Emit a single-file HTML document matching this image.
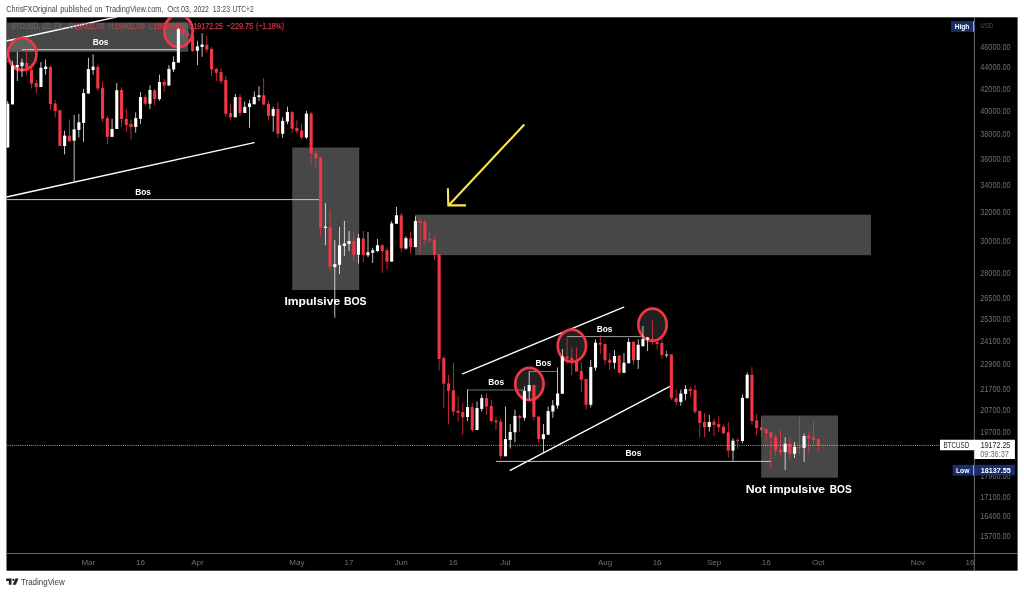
<!DOCTYPE html>
<html lang="en"><head><meta charset="utf-8"><title>BTCUSD chart</title>
<style>
html,body{margin:0;padding:0;background:#fff;}
body{width:1024px;height:593px;overflow:hidden;position:relative;font-family:"Liberation Sans",sans-serif;}
svg{position:absolute;left:0;top:0;display:block;}
text{font-family:"Liberation Sans",sans-serif;}
</style></head><body>
<svg width="1024" height="593" viewBox="0 0 1024 593">
<defs><clipPath id="pane"><rect x="6.50" y="17.30" width="967.80" height="536.20"/></clipPath></defs>
<rect x="0" y="0" width="1024" height="593" fill="#ffffff"/>
<rect x="6.50" y="17.30" width="1011.10" height="553.40" fill="#000000"/>
<g clip-path="url(#pane)">
<rect x="6.50" y="22.50" width="181.60" height="29.30" fill="#474747"/>
<rect x="292.20" y="147.50" width="67.00" height="142.50" fill="#474747"/>
<rect x="415.00" y="214.70" width="456.00" height="40.50" fill="#474747"/>
<rect x="761.20" y="415.50" width="76.80" height="62.20" fill="#474747"/>
<line x1="6.50" y1="41.00" x2="116.50" y2="17.00" stroke="#ffffff" stroke-width="1.3" stroke-linecap="round"/>
<line x1="6.50" y1="197.00" x2="254.20" y2="142.60" stroke="#ffffff" stroke-width="1.3" stroke-linecap="round"/>
<line x1="462.50" y1="373.80" x2="623.80" y2="307.20" stroke="#ffffff" stroke-width="1.3" stroke-linecap="round"/>
<line x1="510.20" y1="470.40" x2="670.00" y2="386.40" stroke="#ffffff" stroke-width="1.3" stroke-linecap="round"/>
<line x1="21.90" y1="49.70" x2="177.00" y2="49.70" stroke="#e6e6e6" stroke-width="0.90"/>
<line x1="0.00" y1="61.30" x2="12.60" y2="61.30" stroke="#9a9a9a" stroke-width="0.80"/>
<line x1="0.00" y1="199.60" x2="319.00" y2="199.60" stroke="#c8c8c8" stroke-width="1.00"/>
<line x1="467.50" y1="390.00" x2="523.80" y2="390.00" stroke="#8c8c8c" stroke-width="0.80"/>
<line x1="529.20" y1="371.50" x2="557.50" y2="371.50" stroke="#8c8c8c" stroke-width="0.80"/>
<line x1="566.90" y1="336.60" x2="641.90" y2="336.60" stroke="#c0c0c0" stroke-width="0.80"/>
<line x1="495.90" y1="461.40" x2="771.00" y2="461.40" stroke="#d8d8d8" stroke-width="0.90"/>
<ellipse cx="22.30" cy="54.10" rx="14.15" ry="16.1" fill="rgba(255,255,255,0.13)" stroke="#f23645" stroke-width="2.7"/>
<ellipse cx="178.50" cy="30.90" rx="14.15" ry="16.1" fill="rgba(255,255,255,0.13)" stroke="#f23645" stroke-width="2.7"/>
<ellipse cx="529.40" cy="384.00" rx="14.15" ry="16.1" fill="rgba(255,255,255,0.13)" stroke="#f23645" stroke-width="2.7"/>
<ellipse cx="571.90" cy="345.80" rx="14.15" ry="16.1" fill="rgba(255,255,255,0.13)" stroke="#f23645" stroke-width="2.7"/>
<ellipse cx="652.50" cy="324.70" rx="14.15" ry="16.1" fill="rgba(255,255,255,0.13)" stroke="#f23645" stroke-width="2.7"/>
<g stroke="#fbe94a" stroke-width="2.1" fill="none" stroke-linecap="butt" stroke-linejoin="miter">
<line x1="524.3" y1="124.5" x2="448.8" y2="205.2"/>
<polyline points="447.9,188.3 448.3,205.4 466.0,205.4"/>
</g>
<text x="92.70" y="44.60" font-size="9.6" fill="#ffffff" font-weight="bold" textLength="15.80" lengthAdjust="spacingAndGlyphs">Bos</text>
<text x="135.20" y="194.80" font-size="9.6" fill="#ffffff" font-weight="bold" textLength="15.80" lengthAdjust="spacingAndGlyphs">Bos</text>
<text x="488.30" y="384.60" font-size="9.6" fill="#ffffff" font-weight="bold" textLength="15.80" lengthAdjust="spacingAndGlyphs">Bos</text>
<text x="535.50" y="365.60" font-size="9.6" fill="#ffffff" font-weight="bold" textLength="15.80" lengthAdjust="spacingAndGlyphs">Bos</text>
<text x="596.70" y="331.90" font-size="9.6" fill="#ffffff" font-weight="bold" textLength="15.80" lengthAdjust="spacingAndGlyphs">Bos</text>
<text x="625.50" y="455.80" font-size="9.6" fill="#ffffff" font-weight="bold" textLength="15.80" lengthAdjust="spacingAndGlyphs">Bos</text>
<text x="284.50" y="305.40" font-size="11.7" fill="#ffffff" font-weight="bold" textLength="55.60" lengthAdjust="spacingAndGlyphs">Impulsive</text>
<text x="343.90" y="305.40" font-size="11.7" fill="#ffffff" font-weight="bold" textLength="22.70" lengthAdjust="spacingAndGlyphs">BOS</text>
<text x="745.70" y="492.80" font-size="11.7" fill="#ffffff" font-weight="bold" textLength="20.50" lengthAdjust="spacingAndGlyphs">Not</text>
<text x="769.60" y="492.80" font-size="11.7" fill="#ffffff" font-weight="bold" textLength="55.40" lengthAdjust="spacingAndGlyphs">impulsive</text>
<text x="829.80" y="492.80" font-size="11.7" fill="#ffffff" font-weight="bold" textLength="21.90" lengthAdjust="spacingAndGlyphs">BOS</text>
</g>
<g clip-path="url(#pane)" shape-rendering="geometricPrecision">
<rect x="7.38" y="101.00" width="0.75" height="46.50" fill="#ffffff"/>
<rect x="6.21" y="103.75" width="3.10" height="43.75" fill="#ffffff"/>
<rect x="12.12" y="61.30" width="0.75" height="43.10" fill="#ffffff"/>
<rect x="10.95" y="65.70" width="3.10" height="38.70" fill="#ffffff"/>
<rect x="16.87" y="51.90" width="0.75" height="29.10" fill="#ffffff"/>
<rect x="15.69" y="65.00" width="3.10" height="2.25" fill="#ffffff"/>
<rect x="21.61" y="58.75" width="0.75" height="18.15" fill="#ffffff"/>
<rect x="20.43" y="62.50" width="3.10" height="3.50" fill="#ffffff"/>
<rect x="26.34" y="48.75" width="0.75" height="26.85" fill="#f23645"/>
<rect x="25.17" y="62.90" width="3.10" height="7.10" fill="#f23645"/>
<rect x="31.09" y="67.50" width="0.75" height="21.00" fill="#f23645"/>
<rect x="29.91" y="70.00" width="3.10" height="13.50" fill="#f23645"/>
<rect x="35.83" y="79.75" width="0.75" height="13.75" fill="#f23645"/>
<rect x="34.65" y="83.00" width="3.10" height="4.00" fill="#f23645"/>
<rect x="40.56" y="62.00" width="0.75" height="25.00" fill="#ffffff"/>
<rect x="39.39" y="67.75" width="3.10" height="19.25" fill="#ffffff"/>
<rect x="45.30" y="59.40" width="0.75" height="15.35" fill="#ffffff"/>
<rect x="44.13" y="66.60" width="3.10" height="2.40" fill="#ffffff"/>
<rect x="50.05" y="65.60" width="0.75" height="44.15" fill="#f23645"/>
<rect x="48.87" y="66.90" width="3.10" height="37.10" fill="#f23645"/>
<rect x="54.79" y="100.00" width="0.75" height="17.25" fill="#f23645"/>
<rect x="53.61" y="103.50" width="3.10" height="7.50" fill="#f23645"/>
<rect x="59.53" y="110.00" width="0.75" height="36.00" fill="#f23645"/>
<rect x="58.35" y="110.25" width="3.10" height="35.75" fill="#f23645"/>
<rect x="64.27" y="130.60" width="0.75" height="23.80" fill="#ffffff"/>
<rect x="63.09" y="135.60" width="3.10" height="10.40" fill="#ffffff"/>
<rect x="69.00" y="119.40" width="0.75" height="22.10" fill="#f23645"/>
<rect x="67.83" y="135.60" width="3.10" height="5.65" fill="#f23645"/>
<rect x="73.75" y="115.00" width="0.75" height="66.00" fill="#ffffff"/>
<rect x="72.57" y="129.40" width="3.10" height="11.20" fill="#ffffff"/>
<rect x="78.48" y="114.00" width="0.75" height="23.50" fill="#ffffff"/>
<rect x="77.31" y="122.25" width="3.10" height="7.75" fill="#ffffff"/>
<rect x="83.23" y="89.00" width="0.75" height="52.90" fill="#ffffff"/>
<rect x="82.05" y="93.10" width="3.10" height="29.80" fill="#ffffff"/>
<rect x="87.97" y="57.75" width="0.75" height="35.75" fill="#ffffff"/>
<rect x="86.79" y="69.00" width="3.10" height="24.50" fill="#ffffff"/>
<rect x="92.70" y="54.40" width="0.75" height="20.35" fill="#ffffff"/>
<rect x="91.53" y="66.60" width="3.10" height="3.40" fill="#ffffff"/>
<rect x="97.45" y="64.40" width="0.75" height="26.20" fill="#f23645"/>
<rect x="96.27" y="66.90" width="3.10" height="21.60" fill="#f23645"/>
<rect x="102.19" y="81.90" width="0.75" height="40.00" fill="#f23645"/>
<rect x="101.01" y="87.90" width="3.10" height="30.85" fill="#f23645"/>
<rect x="106.93" y="116.00" width="0.75" height="28.40" fill="#f23645"/>
<rect x="105.75" y="118.10" width="3.10" height="18.80" fill="#f23645"/>
<rect x="111.67" y="118.75" width="0.75" height="18.15" fill="#ffffff"/>
<rect x="110.49" y="129.00" width="3.10" height="7.90" fill="#ffffff"/>
<rect x="116.41" y="83.00" width="0.75" height="46.00" fill="#ffffff"/>
<rect x="115.23" y="90.25" width="3.10" height="38.75" fill="#ffffff"/>
<rect x="121.15" y="87.25" width="0.75" height="40.00" fill="#f23645"/>
<rect x="119.97" y="90.00" width="3.10" height="29.00" fill="#f23645"/>
<rect x="125.89" y="108.75" width="0.75" height="23.15" fill="#f23645"/>
<rect x="124.71" y="119.00" width="3.10" height="6.00" fill="#f23645"/>
<rect x="130.62" y="119.40" width="0.75" height="20.00" fill="#f23645"/>
<rect x="129.45" y="124.00" width="3.10" height="2.90" fill="#f23645"/>
<rect x="135.37" y="112.25" width="0.75" height="20.50" fill="#ffffff"/>
<rect x="134.19" y="118.10" width="3.10" height="8.80" fill="#ffffff"/>
<rect x="140.11" y="92.10" width="0.75" height="31.90" fill="#ffffff"/>
<rect x="138.93" y="97.10" width="3.10" height="21.65" fill="#ffffff"/>
<rect x="144.84" y="94.75" width="0.75" height="10.65" fill="#f23645"/>
<rect x="143.67" y="97.10" width="3.10" height="6.65" fill="#f23645"/>
<rect x="149.59" y="85.25" width="0.75" height="23.75" fill="#ffffff"/>
<rect x="148.41" y="90.00" width="3.10" height="13.75" fill="#ffffff"/>
<rect x="154.33" y="89.00" width="0.75" height="16.40" fill="#f23645"/>
<rect x="153.15" y="90.25" width="3.10" height="8.85" fill="#f23645"/>
<rect x="159.06" y="74.50" width="0.75" height="26.40" fill="#ffffff"/>
<rect x="157.89" y="82.00" width="3.10" height="17.10" fill="#ffffff"/>
<rect x="163.81" y="79.10" width="0.75" height="12.80" fill="#f23645"/>
<rect x="162.63" y="82.00" width="3.10" height="3.50" fill="#f23645"/>
<rect x="168.55" y="65.10" width="0.75" height="20.50" fill="#ffffff"/>
<rect x="167.37" y="68.90" width="3.10" height="16.60" fill="#ffffff"/>
<rect x="173.28" y="56.40" width="0.75" height="15.60" fill="#ffffff"/>
<rect x="172.11" y="62.00" width="3.10" height="7.50" fill="#ffffff"/>
<rect x="178.03" y="26.40" width="0.75" height="36.20" fill="#ffffff"/>
<rect x="176.85" y="28.90" width="3.10" height="33.70" fill="#ffffff"/>
<rect x="182.77" y="28.50" width="0.75" height="10.40" fill="#f23645"/>
<rect x="181.59" y="29.10" width="3.10" height="4.80" fill="#f23645"/>
<rect x="187.50" y="30.75" width="0.75" height="9.35" fill="#f23645"/>
<rect x="186.33" y="33.25" width="3.10" height="2.50" fill="#f23645"/>
<rect x="192.25" y="34.50" width="0.75" height="17.50" fill="#f23645"/>
<rect x="191.07" y="35.10" width="3.10" height="15.90" fill="#f23645"/>
<rect x="196.99" y="40.75" width="0.75" height="24.35" fill="#ffffff"/>
<rect x="195.81" y="46.40" width="3.10" height="4.35" fill="#ffffff"/>
<rect x="201.73" y="33.25" width="0.75" height="23.50" fill="#ffffff"/>
<rect x="200.55" y="44.50" width="3.10" height="2.50" fill="#ffffff"/>
<rect x="206.47" y="35.75" width="0.75" height="17.25" fill="#f23645"/>
<rect x="205.29" y="44.75" width="3.10" height="5.00" fill="#f23645"/>
<rect x="211.21" y="47.00" width="0.75" height="29.00" fill="#f23645"/>
<rect x="210.03" y="48.90" width="3.10" height="20.60" fill="#f23645"/>
<rect x="215.95" y="67.60" width="0.75" height="13.40" fill="#f23645"/>
<rect x="214.77" y="68.90" width="3.10" height="4.00" fill="#f23645"/>
<rect x="220.69" y="68.00" width="0.75" height="15.90" fill="#f23645"/>
<rect x="219.51" y="72.00" width="3.10" height="9.10" fill="#f23645"/>
<rect x="225.43" y="76.00" width="0.75" height="40.60" fill="#f23645"/>
<rect x="224.25" y="80.10" width="3.10" height="33.65" fill="#f23645"/>
<rect x="230.17" y="103.50" width="0.75" height="16.50" fill="#f23645"/>
<rect x="228.99" y="113.10" width="3.10" height="4.15" fill="#f23645"/>
<rect x="234.91" y="94.00" width="0.75" height="23.25" fill="#ffffff"/>
<rect x="233.73" y="97.10" width="3.10" height="20.15" fill="#ffffff"/>
<rect x="239.65" y="94.00" width="0.75" height="22.00" fill="#f23645"/>
<rect x="238.47" y="97.10" width="3.10" height="16.00" fill="#f23645"/>
<rect x="244.39" y="101.50" width="0.75" height="11.50" fill="#ffffff"/>
<rect x="243.21" y="106.90" width="3.10" height="6.10" fill="#ffffff"/>
<rect x="249.12" y="99.90" width="0.75" height="27.85" fill="#ffffff"/>
<rect x="247.95" y="103.40" width="3.10" height="3.70" fill="#ffffff"/>
<rect x="253.87" y="91.50" width="0.75" height="12.75" fill="#ffffff"/>
<rect x="252.69" y="96.90" width="3.10" height="7.35" fill="#ffffff"/>
<rect x="258.61" y="86.25" width="0.75" height="14.65" fill="#ffffff"/>
<rect x="257.43" y="95.25" width="3.10" height="1.85" fill="#ffffff"/>
<rect x="263.35" y="78.10" width="0.75" height="26.65" fill="#f23645"/>
<rect x="262.17" y="95.25" width="3.10" height="9.35" fill="#f23645"/>
<rect x="268.09" y="101.50" width="0.75" height="19.00" fill="#f23645"/>
<rect x="266.91" y="104.00" width="3.10" height="11.90" fill="#f23645"/>
<rect x="272.82" y="106.50" width="0.75" height="25.25" fill="#ffffff"/>
<rect x="271.65" y="109.00" width="3.10" height="6.90" fill="#ffffff"/>
<rect x="277.56" y="102.10" width="0.75" height="35.65" fill="#f23645"/>
<rect x="276.39" y="109.00" width="3.10" height="24.75" fill="#f23645"/>
<rect x="282.31" y="117.10" width="0.75" height="20.65" fill="#ffffff"/>
<rect x="281.13" y="120.90" width="3.10" height="12.85" fill="#ffffff"/>
<rect x="287.05" y="106.50" width="0.75" height="17.75" fill="#ffffff"/>
<rect x="285.87" y="112.10" width="3.10" height="9.40" fill="#ffffff"/>
<rect x="291.79" y="110.90" width="0.75" height="21.60" fill="#f23645"/>
<rect x="290.61" y="112.10" width="3.10" height="16.50" fill="#f23645"/>
<rect x="296.53" y="120.25" width="0.75" height="13.35" fill="#f23645"/>
<rect x="295.35" y="128.00" width="3.10" height="3.10" fill="#f23645"/>
<rect x="301.26" y="123.40" width="0.75" height="16.20" fill="#f23645"/>
<rect x="300.09" y="130.50" width="3.10" height="7.00" fill="#f23645"/>
<rect x="306.00" y="110.90" width="0.75" height="28.10" fill="#ffffff"/>
<rect x="304.83" y="113.60" width="3.10" height="23.90" fill="#ffffff"/>
<rect x="310.75" y="112.10" width="0.75" height="52.30" fill="#f23645"/>
<rect x="309.57" y="113.60" width="3.10" height="39.80" fill="#f23645"/>
<rect x="315.49" y="150.25" width="0.75" height="17.85" fill="#f23645"/>
<rect x="314.31" y="153.10" width="3.10" height="5.00" fill="#f23645"/>
<rect x="320.23" y="157.00" width="0.75" height="79.90" fill="#f23645"/>
<rect x="319.05" y="157.50" width="3.10" height="70.00" fill="#f23645"/>
<rect x="324.97" y="203.10" width="0.75" height="42.15" fill="#ffffff"/>
<rect x="323.79" y="226.60" width="3.10" height="1.30" fill="#ffffff"/>
<rect x="329.71" y="210.00" width="0.75" height="60.40" fill="#f23645"/>
<rect x="328.53" y="227.25" width="3.10" height="39.65" fill="#f23645"/>
<rect x="334.44" y="240.25" width="0.75" height="77.35" fill="#ffffff"/>
<rect x="333.27" y="264.10" width="3.10" height="3.00" fill="#ffffff"/>
<rect x="339.19" y="226.90" width="0.75" height="47.20" fill="#ffffff"/>
<rect x="338.01" y="245.25" width="3.10" height="19.50" fill="#ffffff"/>
<rect x="343.93" y="220.90" width="0.75" height="35.10" fill="#ffffff"/>
<rect x="342.75" y="243.40" width="3.10" height="2.60" fill="#ffffff"/>
<rect x="348.67" y="231.00" width="0.75" height="20.00" fill="#ffffff"/>
<rect x="347.49" y="241.00" width="3.10" height="3.00" fill="#ffffff"/>
<rect x="353.41" y="231.50" width="0.75" height="30.10" fill="#f23645"/>
<rect x="352.23" y="241.00" width="3.10" height="13.75" fill="#f23645"/>
<rect x="358.15" y="234.00" width="0.75" height="29.50" fill="#ffffff"/>
<rect x="356.97" y="238.10" width="3.10" height="16.65" fill="#ffffff"/>
<rect x="362.88" y="231.00" width="0.75" height="31.10" fill="#f23645"/>
<rect x="361.71" y="238.50" width="3.10" height="16.50" fill="#f23645"/>
<rect x="367.62" y="232.10" width="0.75" height="25.15" fill="#ffffff"/>
<rect x="366.45" y="252.25" width="3.10" height="3.00" fill="#ffffff"/>
<rect x="372.37" y="247.75" width="0.75" height="15.15" fill="#ffffff"/>
<rect x="371.19" y="250.25" width="3.10" height="2.50" fill="#ffffff"/>
<rect x="377.11" y="239.00" width="0.75" height="13.25" fill="#ffffff"/>
<rect x="375.93" y="245.25" width="3.10" height="5.75" fill="#ffffff"/>
<rect x="381.85" y="244.00" width="0.75" height="28.75" fill="#f23645"/>
<rect x="380.67" y="245.25" width="3.10" height="5.75" fill="#f23645"/>
<rect x="386.59" y="247.25" width="0.75" height="21.85" fill="#f23645"/>
<rect x="385.41" y="250.25" width="3.10" height="11.35" fill="#f23645"/>
<rect x="391.33" y="221.00" width="0.75" height="40.60" fill="#ffffff"/>
<rect x="390.15" y="223.40" width="3.10" height="38.20" fill="#ffffff"/>
<rect x="396.06" y="206.90" width="0.75" height="16.85" fill="#ffffff"/>
<rect x="394.89" y="215.25" width="3.10" height="8.50" fill="#ffffff"/>
<rect x="400.81" y="213.10" width="0.75" height="39.15" fill="#f23645"/>
<rect x="399.63" y="215.30" width="3.10" height="32.90" fill="#f23645"/>
<rect x="405.55" y="236.25" width="0.75" height="13.35" fill="#ffffff"/>
<rect x="404.37" y="238.20" width="3.10" height="10.30" fill="#ffffff"/>
<rect x="410.29" y="231.50" width="0.75" height="22.00" fill="#f23645"/>
<rect x="409.11" y="238.20" width="3.10" height="8.80" fill="#f23645"/>
<rect x="415.03" y="216.40" width="0.75" height="30.70" fill="#ffffff"/>
<rect x="413.85" y="221.00" width="3.10" height="26.10" fill="#ffffff"/>
<rect x="419.77" y="218.20" width="0.75" height="35.80" fill="#f23645"/>
<rect x="418.59" y="221.00" width="3.10" height="1.75" fill="#f23645"/>
<rect x="424.50" y="219.40" width="0.75" height="24.60" fill="#f23645"/>
<rect x="423.33" y="222.10" width="3.10" height="17.65" fill="#f23645"/>
<rect x="429.25" y="231.60" width="0.75" height="11.30" fill="#f23645"/>
<rect x="428.07" y="238.90" width="3.10" height="1.50" fill="#f23645"/>
<rect x="433.99" y="236.60" width="0.75" height="23.40" fill="#f23645"/>
<rect x="432.81" y="239.75" width="3.10" height="15.00" fill="#f23645"/>
<rect x="438.73" y="254.00" width="0.75" height="116.60" fill="#f23645"/>
<rect x="437.55" y="254.10" width="3.10" height="104.90" fill="#f23645"/>
<rect x="443.47" y="355.60" width="0.75" height="52.30" fill="#f23645"/>
<rect x="442.29" y="358.10" width="3.10" height="25.65" fill="#f23645"/>
<rect x="448.21" y="375.00" width="0.75" height="49.10" fill="#f23645"/>
<rect x="447.03" y="383.40" width="3.10" height="7.50" fill="#f23645"/>
<rect x="452.94" y="363.10" width="0.75" height="52.30" fill="#f23645"/>
<rect x="451.77" y="390.25" width="3.10" height="21.35" fill="#f23645"/>
<rect x="457.69" y="396.50" width="0.75" height="25.10" fill="#f23645"/>
<rect x="456.51" y="410.75" width="3.10" height="2.15" fill="#f23645"/>
<rect x="462.43" y="402.90" width="0.75" height="31.85" fill="#f23645"/>
<rect x="461.25" y="412.00" width="3.10" height="5.25" fill="#f23645"/>
<rect x="467.17" y="389.40" width="0.75" height="31.60" fill="#ffffff"/>
<rect x="465.99" y="407.00" width="3.10" height="10.00" fill="#ffffff"/>
<rect x="471.91" y="403.25" width="0.75" height="28.65" fill="#f23645"/>
<rect x="470.73" y="407.00" width="3.10" height="23.00" fill="#f23645"/>
<rect x="476.65" y="401.60" width="0.75" height="28.40" fill="#ffffff"/>
<rect x="475.47" y="408.10" width="3.10" height="21.90" fill="#ffffff"/>
<rect x="481.39" y="394.75" width="0.75" height="16.85" fill="#ffffff"/>
<rect x="480.21" y="398.10" width="3.10" height="10.80" fill="#ffffff"/>
<rect x="486.12" y="393.10" width="0.75" height="21.65" fill="#f23645"/>
<rect x="484.95" y="398.10" width="3.10" height="8.50" fill="#f23645"/>
<rect x="490.87" y="399.75" width="0.75" height="22.75" fill="#f23645"/>
<rect x="489.69" y="406.00" width="3.10" height="15.00" fill="#f23645"/>
<rect x="495.61" y="416.60" width="0.75" height="13.40" fill="#f23645"/>
<rect x="494.43" y="420.40" width="3.10" height="1.85" fill="#f23645"/>
<rect x="500.35" y="418.50" width="0.75" height="40.00" fill="#f23645"/>
<rect x="499.17" y="421.60" width="3.10" height="34.40" fill="#f23645"/>
<rect x="505.09" y="406.60" width="0.75" height="49.80" fill="#ffffff"/>
<rect x="503.91" y="439.10" width="3.10" height="17.20" fill="#ffffff"/>
<rect x="509.83" y="424.10" width="0.75" height="24.50" fill="#ffffff"/>
<rect x="508.65" y="432.00" width="3.10" height="7.90" fill="#ffffff"/>
<rect x="514.57" y="409.75" width="0.75" height="32.65" fill="#ffffff"/>
<rect x="513.39" y="416.00" width="3.10" height="16.25" fill="#ffffff"/>
<rect x="519.31" y="415.00" width="0.75" height="16.90" fill="#f23645"/>
<rect x="518.13" y="415.80" width="3.10" height="2.10" fill="#f23645"/>
<rect x="524.05" y="386.25" width="0.75" height="34.35" fill="#ffffff"/>
<rect x="522.87" y="390.90" width="3.10" height="26.90" fill="#ffffff"/>
<rect x="528.78" y="371.50" width="0.75" height="27.90" fill="#ffffff"/>
<rect x="527.61" y="385.00" width="3.10" height="6.25" fill="#ffffff"/>
<rect x="533.52" y="384.50" width="0.75" height="35.80" fill="#f23645"/>
<rect x="532.35" y="385.00" width="3.10" height="32.00" fill="#f23645"/>
<rect x="538.26" y="416.00" width="0.75" height="26.80" fill="#f23645"/>
<rect x="537.09" y="416.70" width="3.10" height="22.40" fill="#f23645"/>
<rect x="543.00" y="424.10" width="0.75" height="27.90" fill="#ffffff"/>
<rect x="541.83" y="434.25" width="3.10" height="4.85" fill="#ffffff"/>
<rect x="547.75" y="406.50" width="0.75" height="28.25" fill="#ffffff"/>
<rect x="546.57" y="411.10" width="3.10" height="23.65" fill="#ffffff"/>
<rect x="552.49" y="400.00" width="0.75" height="17.75" fill="#ffffff"/>
<rect x="551.31" y="405.40" width="3.10" height="6.10" fill="#ffffff"/>
<rect x="557.23" y="367.50" width="0.75" height="41.25" fill="#ffffff"/>
<rect x="556.05" y="393.50" width="3.10" height="12.10" fill="#ffffff"/>
<rect x="561.97" y="349.00" width="0.75" height="44.75" fill="#ffffff"/>
<rect x="560.79" y="356.50" width="3.10" height="37.25" fill="#ffffff"/>
<rect x="566.71" y="338.10" width="0.75" height="25.65" fill="#f23645"/>
<rect x="565.53" y="356.50" width="3.10" height="2.00" fill="#f23645"/>
<rect x="571.45" y="347.25" width="0.75" height="28.35" fill="#f23645"/>
<rect x="570.27" y="358.10" width="3.10" height="2.50" fill="#f23645"/>
<rect x="576.19" y="347.50" width="0.75" height="24.00" fill="#f23645"/>
<rect x="575.01" y="360.00" width="3.10" height="11.50" fill="#f23645"/>
<rect x="580.93" y="361.90" width="0.75" height="30.00" fill="#f23645"/>
<rect x="579.75" y="371.10" width="3.10" height="8.50" fill="#f23645"/>
<rect x="585.67" y="379.00" width="0.75" height="30.40" fill="#f23645"/>
<rect x="584.49" y="379.00" width="3.10" height="25.75" fill="#f23645"/>
<rect x="590.40" y="360.00" width="0.75" height="47.50" fill="#ffffff"/>
<rect x="589.23" y="367.00" width="3.10" height="37.75" fill="#ffffff"/>
<rect x="595.14" y="339.40" width="0.75" height="31.40" fill="#ffffff"/>
<rect x="593.97" y="342.75" width="3.10" height="24.85" fill="#ffffff"/>
<rect x="599.88" y="335.25" width="0.75" height="18.75" fill="#f23645"/>
<rect x="598.71" y="342.75" width="3.10" height="1.85" fill="#f23645"/>
<rect x="604.62" y="343.50" width="0.75" height="21.60" fill="#f23645"/>
<rect x="603.45" y="344.00" width="3.10" height="16.25" fill="#f23645"/>
<rect x="609.37" y="353.10" width="0.75" height="16.50" fill="#f23645"/>
<rect x="608.19" y="359.75" width="3.10" height="3.00" fill="#f23645"/>
<rect x="614.11" y="350.00" width="0.75" height="18.90" fill="#ffffff"/>
<rect x="612.93" y="356.00" width="3.10" height="6.75" fill="#ffffff"/>
<rect x="618.85" y="355.00" width="0.75" height="19.40" fill="#f23645"/>
<rect x="617.67" y="355.60" width="3.10" height="17.00" fill="#f23645"/>
<rect x="623.59" y="353.10" width="0.75" height="19.80" fill="#ffffff"/>
<rect x="622.41" y="362.75" width="3.10" height="10.15" fill="#ffffff"/>
<rect x="628.33" y="338.10" width="0.75" height="25.15" fill="#ffffff"/>
<rect x="627.15" y="341.90" width="3.10" height="21.35" fill="#ffffff"/>
<rect x="633.07" y="341.50" width="0.75" height="23.60" fill="#f23645"/>
<rect x="631.89" y="341.90" width="3.10" height="18.35" fill="#f23645"/>
<rect x="637.81" y="339.40" width="0.75" height="29.50" fill="#ffffff"/>
<rect x="636.63" y="344.75" width="3.10" height="15.25" fill="#ffffff"/>
<rect x="642.55" y="326.00" width="0.75" height="20.25" fill="#ffffff"/>
<rect x="641.37" y="339.00" width="3.10" height="7.25" fill="#ffffff"/>
<rect x="647.29" y="336.90" width="0.75" height="14.10" fill="#ffffff"/>
<rect x="646.11" y="337.50" width="3.10" height="1.90" fill="#ffffff"/>
<rect x="652.02" y="320.60" width="0.75" height="24.30" fill="#f23645"/>
<rect x="650.85" y="338.75" width="3.10" height="2.85" fill="#f23645"/>
<rect x="656.76" y="340.60" width="0.75" height="9.15" fill="#f23645"/>
<rect x="655.59" y="342.00" width="3.10" height="1.90" fill="#f23645"/>
<rect x="661.50" y="338.75" width="0.75" height="20.05" fill="#f23645"/>
<rect x="660.33" y="343.10" width="3.10" height="11.90" fill="#f23645"/>
<rect x="666.25" y="350.70" width="0.75" height="7.30" fill="#b0b0b0"/>
<rect x="665.07" y="354.30" width="3.10" height="1.50" fill="#b0b0b0"/>
<rect x="670.99" y="354.00" width="0.75" height="46.40" fill="#f23645"/>
<rect x="669.81" y="354.50" width="3.10" height="43.60" fill="#f23645"/>
<rect x="675.73" y="389.10" width="0.75" height="16.65" fill="#f23645"/>
<rect x="674.55" y="398.10" width="3.10" height="3.90" fill="#f23645"/>
<rect x="680.47" y="389.75" width="0.75" height="16.00" fill="#ffffff"/>
<rect x="679.29" y="393.50" width="3.10" height="8.50" fill="#ffffff"/>
<rect x="685.21" y="385.00" width="0.75" height="15.40" fill="#ffffff"/>
<rect x="684.03" y="389.10" width="3.10" height="4.80" fill="#ffffff"/>
<rect x="689.95" y="386.40" width="0.75" height="10.60" fill="#f23645"/>
<rect x="688.77" y="389.10" width="3.10" height="1.90" fill="#f23645"/>
<rect x="694.69" y="385.10" width="0.75" height="28.65" fill="#f23645"/>
<rect x="693.51" y="390.00" width="3.10" height="21.60" fill="#f23645"/>
<rect x="699.43" y="410.50" width="0.75" height="26.75" fill="#f23645"/>
<rect x="698.25" y="411.00" width="3.10" height="11.90" fill="#f23645"/>
<rect x="704.17" y="412.90" width="0.75" height="24.10" fill="#f23645"/>
<rect x="702.99" y="422.00" width="3.10" height="5.25" fill="#f23645"/>
<rect x="708.91" y="415.00" width="0.75" height="16.60" fill="#ffffff"/>
<rect x="707.73" y="422.00" width="3.10" height="5.00" fill="#ffffff"/>
<rect x="713.64" y="418.90" width="0.75" height="17.10" fill="#f23645"/>
<rect x="712.47" y="421.60" width="3.10" height="3.40" fill="#f23645"/>
<rect x="718.38" y="416.00" width="0.75" height="15.60" fill="#f23645"/>
<rect x="717.21" y="424.10" width="3.10" height="3.15" fill="#f23645"/>
<rect x="723.12" y="424.50" width="0.75" height="9.70" fill="#f23645"/>
<rect x="721.95" y="426.70" width="3.10" height="6.40" fill="#f23645"/>
<rect x="727.87" y="422.25" width="0.75" height="35.25" fill="#f23645"/>
<rect x="726.69" y="432.25" width="3.10" height="18.35" fill="#f23645"/>
<rect x="732.61" y="438.30" width="0.75" height="22.50" fill="#ffffff"/>
<rect x="731.43" y="440.70" width="3.10" height="9.90" fill="#ffffff"/>
<rect x="737.35" y="438.30" width="0.75" height="10.95" fill="#f23645"/>
<rect x="736.17" y="439.90" width="3.10" height="1.00" fill="#f23645"/>
<rect x="742.09" y="394.50" width="0.75" height="48.40" fill="#ffffff"/>
<rect x="740.91" y="397.90" width="3.10" height="43.10" fill="#ffffff"/>
<rect x="746.83" y="372.50" width="0.75" height="25.70" fill="#ffffff"/>
<rect x="745.65" y="374.75" width="3.10" height="23.45" fill="#ffffff"/>
<rect x="751.57" y="367.00" width="0.75" height="57.75" fill="#f23645"/>
<rect x="750.39" y="374.75" width="3.10" height="46.25" fill="#f23645"/>
<rect x="756.31" y="414.00" width="0.75" height="20.90" fill="#f23645"/>
<rect x="755.13" y="420.30" width="3.10" height="7.80" fill="#f23645"/>
<rect x="761.05" y="417.20" width="0.75" height="20.20" fill="#f23645"/>
<rect x="759.87" y="427.20" width="3.10" height="2.80" fill="#f23645"/>
<rect x="765.79" y="428.50" width="0.75" height="13.25" fill="#f23645"/>
<rect x="764.61" y="429.00" width="3.10" height="4.10" fill="#f23645"/>
<rect x="770.53" y="432.00" width="0.75" height="35.40" fill="#f23645"/>
<rect x="769.35" y="432.25" width="3.10" height="5.15" fill="#f23645"/>
<rect x="775.26" y="433.50" width="0.75" height="22.00" fill="#f23645"/>
<rect x="774.09" y="437.00" width="3.10" height="13.50" fill="#f23645"/>
<rect x="780.00" y="430.25" width="0.75" height="26.65" fill="#f23645"/>
<rect x="778.83" y="449.75" width="3.10" height="2.35" fill="#f23645"/>
<rect x="784.75" y="437.10" width="0.75" height="32.90" fill="#ffffff"/>
<rect x="783.57" y="443.75" width="3.10" height="8.35" fill="#ffffff"/>
<rect x="789.49" y="437.25" width="0.75" height="23.35" fill="#f23645"/>
<rect x="788.31" y="443.75" width="3.10" height="10.00" fill="#f23645"/>
<rect x="794.23" y="441.90" width="0.75" height="16.20" fill="#ffffff"/>
<rect x="793.05" y="446.90" width="3.10" height="6.85" fill="#ffffff"/>
<rect x="798.97" y="417.10" width="0.75" height="36.65" fill="#f23645"/>
<rect x="797.79" y="446.90" width="3.10" height="1.20" fill="#f23645"/>
<rect x="803.71" y="433.50" width="0.75" height="28.40" fill="#ffffff"/>
<rect x="802.53" y="436.00" width="3.10" height="11.90" fill="#ffffff"/>
<rect x="808.45" y="431.00" width="0.75" height="22.10" fill="#f23645"/>
<rect x="807.27" y="436.00" width="3.10" height="2.10" fill="#f23645"/>
<rect x="813.19" y="421.60" width="0.75" height="23.40" fill="#f23645"/>
<rect x="812.01" y="437.25" width="3.10" height="2.75" fill="#f23645"/>
<rect x="817.93" y="438.50" width="0.75" height="12.75" fill="#f23645"/>
<rect x="816.75" y="439.00" width="3.10" height="6.25" fill="#f23645"/>
</g>
<line x1="6.50" y1="445.4" x2="940" y2="445.4" stroke="#d4d4d4" stroke-width="0.85" stroke-dasharray="0.9 1.24" stroke-dashoffset="1.07"/>
<rect x="973.85" y="17.30" width="0.9" height="553.40" fill="#747474"/>
<rect x="6.50" y="553.05" width="1011.10" height="0.9" fill="#747474"/>
<text x="980.20" y="50.25" font-size="8.6" fill="#6e717b" textLength="30.50" lengthAdjust="spacingAndGlyphs">46000.00</text>
<text x="980.20" y="70.44" font-size="8.6" fill="#6e717b" textLength="30.50" lengthAdjust="spacingAndGlyphs">44000.00</text>
<text x="980.20" y="91.57" font-size="8.6" fill="#6e717b" textLength="30.50" lengthAdjust="spacingAndGlyphs">42000.00</text>
<text x="980.20" y="113.73" font-size="8.6" fill="#6e717b" textLength="30.50" lengthAdjust="spacingAndGlyphs">40000.00</text>
<text x="980.20" y="137.03" font-size="8.6" fill="#6e717b" textLength="30.50" lengthAdjust="spacingAndGlyphs">38000.00</text>
<text x="980.20" y="161.58" font-size="8.6" fill="#6e717b" textLength="30.50" lengthAdjust="spacingAndGlyphs">36000.00</text>
<text x="980.20" y="187.55" font-size="8.6" fill="#6e717b" textLength="30.50" lengthAdjust="spacingAndGlyphs">34000.00</text>
<text x="980.20" y="215.08" font-size="8.6" fill="#6e717b" textLength="30.50" lengthAdjust="spacingAndGlyphs">32000.00</text>
<text x="980.20" y="244.40" font-size="8.6" fill="#6e717b" textLength="30.50" lengthAdjust="spacingAndGlyphs">30000.00</text>
<text x="980.20" y="275.73" font-size="8.6" fill="#6e717b" textLength="30.50" lengthAdjust="spacingAndGlyphs">28000.00</text>
<text x="980.20" y="300.74" font-size="8.6" fill="#6e717b" textLength="30.50" lengthAdjust="spacingAndGlyphs">26500.00</text>
<text x="980.20" y="321.79" font-size="8.6" fill="#6e717b" textLength="30.50" lengthAdjust="spacingAndGlyphs">25300.00</text>
<text x="980.20" y="343.86" font-size="8.6" fill="#6e717b" textLength="30.50" lengthAdjust="spacingAndGlyphs">24100.00</text>
<text x="980.20" y="367.06" font-size="8.6" fill="#6e717b" textLength="30.50" lengthAdjust="spacingAndGlyphs">22900.00</text>
<text x="980.20" y="391.50" font-size="8.6" fill="#6e717b" textLength="30.50" lengthAdjust="spacingAndGlyphs">21700.00</text>
<text x="980.20" y="412.93" font-size="8.6" fill="#6e717b" textLength="30.50" lengthAdjust="spacingAndGlyphs">20700.00</text>
<text x="980.20" y="435.42" font-size="8.6" fill="#6e717b" textLength="30.50" lengthAdjust="spacingAndGlyphs">19700.00</text>
<text x="980.20" y="478.94" font-size="8.6" fill="#6e717b" textLength="30.50" lengthAdjust="spacingAndGlyphs">17900.00</text>
<text x="980.20" y="499.71" font-size="8.6" fill="#6e717b" textLength="30.50" lengthAdjust="spacingAndGlyphs">17100.00</text>
<text x="980.20" y="518.69" font-size="8.6" fill="#6e717b" textLength="30.50" lengthAdjust="spacingAndGlyphs">16400.00</text>
<text x="980.20" y="538.51" font-size="8.6" fill="#6e717b" textLength="30.50" lengthAdjust="spacingAndGlyphs">15700.00</text>
<text x="980.20" y="28.40" font-size="8" fill="#50535d" textLength="13.00" lengthAdjust="spacingAndGlyphs">USD</text>
<text x="88.34" y="564.90" font-size="8" fill="#6e717b" text-anchor="middle">Mar</text>
<text x="140.48" y="564.90" font-size="8" fill="#6e717b" text-anchor="middle">16</text>
<text x="197.36" y="564.90" font-size="8" fill="#6e717b" text-anchor="middle">Apr</text>
<text x="296.90" y="564.90" font-size="8" fill="#6e717b" text-anchor="middle">May</text>
<text x="349.04" y="564.90" font-size="8" fill="#6e717b" text-anchor="middle">17</text>
<text x="401.18" y="564.90" font-size="8" fill="#6e717b" text-anchor="middle">Jun</text>
<text x="453.32" y="564.90" font-size="8" fill="#6e717b" text-anchor="middle">16</text>
<text x="505.46" y="564.90" font-size="8" fill="#6e717b" text-anchor="middle">Jul</text>
<text x="605.00" y="564.90" font-size="8" fill="#6e717b" text-anchor="middle">Aug</text>
<text x="657.14" y="564.90" font-size="8" fill="#6e717b" text-anchor="middle">16</text>
<text x="714.02" y="564.90" font-size="8" fill="#6e717b" text-anchor="middle">Sep</text>
<text x="766.16" y="564.90" font-size="8" fill="#6e717b" text-anchor="middle">16</text>
<text x="818.30" y="564.90" font-size="8" fill="#6e717b" text-anchor="middle">Oct</text>
<text x="917.84" y="564.90" font-size="8" fill="#6e717b" text-anchor="middle">Nov</text>
<text x="969.98" y="564.90" font-size="8" fill="#6e717b" text-anchor="middle">16</text>
<rect x="951.1" y="21.1" width="23.2" height="10.8" fill="#182f6c"/>
<rect x="973.3" y="21.1" width="0.8" height="10.8" fill="#d0d6e6"/>
<text x="954.70" y="28.90" font-size="8" fill="#ffffff" font-weight="bold" textLength="14.70" lengthAdjust="spacingAndGlyphs">High</text>
<rect x="952.7" y="464.9" width="62.2" height="10.6" fill="#182f6c"/>
<rect x="973.3" y="464.9" width="0.8" height="10.6" fill="#d0d6e6"/>
<text x="956.00" y="472.80" font-size="8" fill="#ffffff" font-weight="bold" textLength="13.40" lengthAdjust="spacingAndGlyphs">Low</text>
<text x="980.70" y="472.90" font-size="8" fill="#ffffff" font-weight="bold" textLength="30.10" lengthAdjust="spacingAndGlyphs">18137.55</text>
<path d="M940 439.8 H1014.9 V459 H974.3 V450.3 H940 Z" fill="#ffffff"/>
<text x="943.40" y="447.90" font-size="8.6" fill="#2a2a2a" textLength="25.90" lengthAdjust="spacingAndGlyphs">BTCUSD</text>
<text x="980.70" y="448.10" font-size="8.6" fill="#1a1a1a" textLength="29.60" lengthAdjust="spacingAndGlyphs">19172.25</text>
<text x="980.20" y="456.80" font-size="8.4" fill="#6a6a6a" textLength="28.80" lengthAdjust="spacingAndGlyphs">09:36:37</text>
<text x="11.40" y="29.20" font-size="9.3" fill="#62656f" stroke="#62656f" stroke-width="0.25" textLength="51.00" lengthAdjust="spacingAndGlyphs">BTCUSD, 1D, FX</text>
<text x="69.00" y="29.20" font-size="9.3" fill="#62656f" stroke="#62656f" stroke-width="0.25" textLength="4.60" lengthAdjust="spacingAndGlyphs">O</text>
<text x="74.50" y="29.20" font-size="9.3" fill="#d83442" stroke="#d83442" stroke-width="0.25" textLength="30.00" lengthAdjust="spacingAndGlyphs">19402.00</text>
<text x="108.90" y="29.20" font-size="9.3" fill="#62656f" stroke="#62656f" stroke-width="0.25" textLength="4.60" lengthAdjust="spacingAndGlyphs">H</text>
<text x="114.50" y="29.20" font-size="9.3" fill="#d83442" stroke="#d83442" stroke-width="0.25" textLength="30.00" lengthAdjust="spacingAndGlyphs">19402.00</text>
<text x="149.00" y="29.20" font-size="9.3" fill="#62656f" stroke="#62656f" stroke-width="0.25" textLength="3.60" lengthAdjust="spacingAndGlyphs">L</text>
<text x="153.60" y="29.20" font-size="9.3" fill="#d83442" stroke="#d83442" stroke-width="0.25" textLength="30.00" lengthAdjust="spacingAndGlyphs">18904.95</text>
<text x="188.20" y="29.20" font-size="9.3" fill="#62656f" stroke="#62656f" stroke-width="0.25" textLength="4.40" lengthAdjust="spacingAndGlyphs">C</text>
<text x="193.40" y="29.20" font-size="9.3" fill="#d83442" stroke="#d83442" stroke-width="0.25" textLength="29.60" lengthAdjust="spacingAndGlyphs">19172.25</text>
<text x="226.60" y="29.20" font-size="9.3" fill="#d83442" stroke="#d83442" stroke-width="0.25" textLength="26.60" lengthAdjust="spacingAndGlyphs">−229.75</text>
<text x="256.00" y="29.20" font-size="9.3" fill="#d83442" stroke="#d83442" stroke-width="0.25" textLength="28.00" lengthAdjust="spacingAndGlyphs">(−1.18%)</text>
<g font-size="8.6" fill="#46464c">
<text x="6.20" y="12.3" textLength="51.20" lengthAdjust="spacingAndGlyphs">ChrisFXOriginal</text>
<text x="60.20" y="12.3" textLength="31.70" lengthAdjust="spacingAndGlyphs">published</text>
<text x="94.60" y="12.3" textLength="7.70" lengthAdjust="spacingAndGlyphs">on</text>
<text x="105.20" y="12.3" textLength="58.30" lengthAdjust="spacingAndGlyphs">TradingView.com,</text>
<text x="167.20" y="12.3" textLength="11.90" lengthAdjust="spacingAndGlyphs">Oct</text>
<text x="181.00" y="12.3" textLength="10.00" lengthAdjust="spacingAndGlyphs">03,</text>
<text x="193.80" y="12.3" textLength="15.10" lengthAdjust="spacingAndGlyphs">2022</text>
<text x="212.70" y="12.3" textLength="17.40" lengthAdjust="spacingAndGlyphs">13:23</text>
<text x="232.40" y="12.3" textLength="21.30" lengthAdjust="spacingAndGlyphs">UTC+2</text>
</g>
<g fill="#1f2024">
<path d="M6.2 578.4 h5.3 v6.4 h-2.7 v-3.7 h-2.6 z"/>
<circle cx="13.3" cy="579.8" r="1.15"/>
<path d="M15.4 578.4 h3.1 l-2.7 6.4 h-3.1 z"/>
</g>
<text x="21.00" y="584.60" font-size="8.4" fill="#3a3a3a" textLength="43.70" lengthAdjust="spacingAndGlyphs">TradingView</text>
</svg>
</body></html>
